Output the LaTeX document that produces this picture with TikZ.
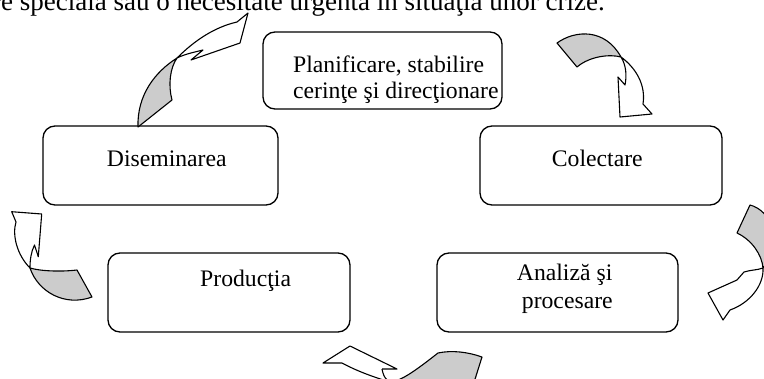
\documentclass[tikz,border=0pt]{standalone}
\usepackage{fontspec}
\setmainfont{Liberation Serif}
\definecolor{backgray}{RGB}{204,204,204}
\begin{document}
\begin{tikzpicture}[x=1pt,y=-1pt,
  box/.style={draw, line width=1.3pt, rounded corners=12pt, inner sep=0pt},
  lbl/.style={font=\fontsize{23.7}{26}\selectfont, inner sep=0pt, anchor=base west},
  back/.style={draw, line width=1.1pt, fill=backgray, line join=round},
  front/.style={draw, line width=1.1pt, fill=white, line join=round},
  edge/.style={draw, line width=1.1pt, line join=round}]
\useasboundingbox (0,0) rectangle (764,378);
\clip (0,0) rectangle (764,378);

% boxes
\node[box, minimum width=239pt, minimum height=77pt] (plan) at (382.5,70.5) {};
\node[box, minimum width=235pt, minimum height=79pt] (dis) at (160.5,165.5) {};
\node[box, minimum width=242pt, minimum height=79pt] (col) at (601,165.5) {};
\node[box, minimum width=242pt, minimum height=79pt] (prod) at (229,292.5) {};
\node[box, minimum width=241pt, minimum height=79pt] (anal) at (557.5,292.5) {};

% texts
\node[lbl, font=\fontsize{27}{30}\selectfont, anchor=base east] (toptext) at (605,10) {re specială sau o necesitate urgentă în situaţia unor crize.};
\node[lbl] (t1) at (293,72) {Planificare, stabilire};
\node[lbl] (t2) at (293,98) {cerinţe şi direcţionare};
\node[lbl] (t3) at (106.7,166.7) {Diseminarea};
\node[lbl] (t4) at (551.7,166.7) {Colectare};
\node[lbl] (t5) at (200,286.7) {Producţia};
\node[lbl] (t6) at (516.7,280.7) {Analiză şi};
\node[lbl] (t7) at (521.7,308.3) {procesare};

% arrow A (Diseminarea -> Planificare)
\path[back] (177,58) .. controls (155,72) and (137,95) .. (138,127) -- (172,100) .. controls (168,85) and (170,68) .. (177,58) -- cycle;
\path[front] (177,58) .. controls (195,40) and (215,27) .. (237,22) -- (248,13) -- (240,43) -- (191,60) -- (203,50) .. controls (195,52) and (185,54) .. (177,58) -- cycle;

% arrow B (Planificare -> Colectare)
\path[back] (557,43) .. controls (575,30) and (605,28) .. (621,57) .. controls (610,54) and (590,56) .. (577,67) -- cycle;
\path[front] (621,57) .. controls (636,68) and (646,85) .. (643,104) -- (652,114) -- (620,117) -- (618,77) -- (625,85) .. controls (627,75) and (626,65) .. (621,57) -- cycle;

% arrow C (Colectare -> Analiza)
\path[back] (750,205) .. controls (770,210) and (785,240) .. (763,268) .. controls (762,255) and (752,240) .. (737,233) -- cycle;
\path[front] (763,268) .. controls (764,285) and (750,303) .. (730,310) -- (723,320) -- (708,293) -- (737,280) -- (744,272) .. controls (750,270) and (758,270) .. (763,268) -- cycle;

% arrow D (Analiza -> Productia)
\begin{scope}
\clip (396,330) rectangle (500,378);
\fill[backgray] (382,369) .. controls (386,390) and (398.8,383.8) .. (438,353) .. controls (452,350) and (468,352) .. (482,357) -- (470,400) -- (382,400) -- cycle;
\end{scope}
\path[edge] (382,369) .. controls (386,390) and (398.8,383.8) .. (438,353) .. controls (452,350) and (468,352) .. (482,357) -- (470,395);
\path[edge] (390,382) .. controls (370,376) and (355,370) .. (342,363) -- (323,363) -- (350,346) -- (397,369) -- (382,369);

% arrow E (Productia -> Diseminarea)
\path[back] (30,268) .. controls (40,271) and (60,272) .. (77,270) -- (92,297) .. controls (65,307) and (38,292) .. (30,268) -- cycle;
\path[front] (30,268) .. controls (17,255) and (12,235) .. (16,222) -- (11.7,211.7) -- (41.7,214) -- (38.3,256.7) -- (34.5,245) .. controls (31,252) and (30,260) .. (30,268) -- cycle;
\end{tikzpicture}
\end{document}
